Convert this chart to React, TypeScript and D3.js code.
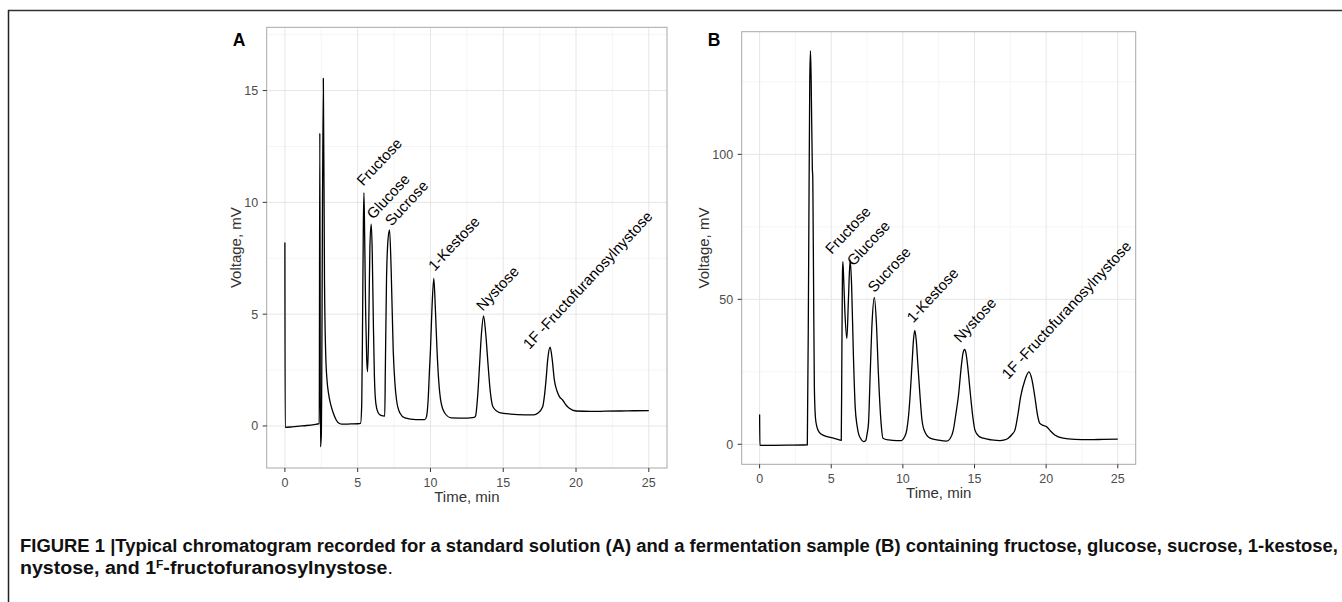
import React, { useEffect, useRef } from 'react';
import * as d3 from 'd3';

// Chromatogram traces: [time (min), voltage (mV)]
const traceA: [number, number][] = [
  [0, 8.2], [0.02, -0.06], [0.5, -0.04], [1.0, -0.01], [1.5, 0.02], [2.0, 0.06], [2.36, 0.1],
  [2.4, 13.1], [2.44, -0.93], [2.5, -0.45], [2.64, 15.55], [2.72, 6.5], [2.8, 3.3], [2.9, 2.0],
  [3.0, 1.45], [3.15, 0.95], [3.33, 0.57], [3.5, 0.3], [3.67, 0.14], [3.9, 0.08], [4.5, 0.09],
  [5.0, 0.1], [5.2, 0.12],
  [5.28, 1.0], [5.34, 5.0], [5.39, 9.0], [5.43, 10.43], [5.48, 8.5], [5.55, 5.0], [5.62, 3.0],
  [5.68, 2.43], [5.76, 4.5], [5.84, 8.0], [5.93, 9.03], [6.0, 7.8], [6.08, 4.5], [6.15, 2.2],
  [6.25, 1.0], [6.4, 0.6], [6.6, 0.47], [6.86, 0.44],
  [6.9, 2.5], [6.98, 6.5], [7.08, 8.3], [7.19, 8.77], [7.3, 7.0], [7.44, 3.4], [7.56, 1.9],
  [7.67, 1.16], [7.9, 0.58], [8.24, 0.36], [9.0, 0.28], [9.6, 0.28],
  [9.73, 0.42], [9.84, 1.16], [9.94, 2.6], [10.0, 3.4], [10.1, 5.2], [10.23, 6.6], [10.34, 5.2],
  [10.45, 3.4], [10.57, 2.0], [10.7, 1.16], [10.98, 0.58], [11.44, 0.36], [12.5, 0.35], [13.0, 0.38],
  [13.1, 0.45], [13.25, 1.4], [13.38, 2.8], [13.5, 4.1], [13.65, 4.92], [13.8, 4.1], [13.95, 2.8],
  [14.1, 1.6], [14.29, 0.86], [14.75, 0.6], [15.5, 0.53], [16.5, 0.5], [17.1, 0.5],
  [17.37, 0.57], [17.71, 0.86], [17.84, 1.4], [17.94, 2.06], [18.06, 3.0], [18.22, 3.52],
  [18.36, 3.0], [18.51, 2.06], [18.7, 1.55], [18.86, 1.31], [19.08, 1.16], [19.3, 0.95],
  [19.54, 0.79], [20.0, 0.67], [21.0, 0.65], [22.0, 0.66], [23.0, 0.67], [24.0, 0.68], [25.0, 0.69],
];

const traceB: [number, number][] = [
  [0, 10.3], [0.02, -0.4], [1.0, -0.35], [2.0, -0.3], [3.0, -0.25], [3.33, -0.2],
  [3.42, 60], [3.5, 125], [3.55, 135.7], [3.6, 125], [3.68, 95], [3.71, 92.3], [3.72, 87.1],
  [3.76, 60], [3.82, 20], [3.9, 9], [4.0, 6], [4.14, 4.3], [4.5, 3.0], [5.0, 2.3], [5.4, 1.8], [5.7, 1.4],
  [5.74, 30], [5.78, 58], [5.81, 63], [5.86, 58], [5.95, 46], [6.09, 36.5], [6.2, 50], [6.32, 63.6],
  [6.42, 55], [6.55, 30], [6.67, 13], [6.8, 6.5], [6.9, 3.8], [7.05, 2.0], [7.25, 0.9], [7.4, 1.2],
  [7.5, 3.5], [7.6, 7.2], [7.72, 24.5], [7.85, 42], [8.01, 50.7], [8.15, 42], [8.29, 24.5],
  [8.48, 7.2], [8.61, 2.1], [9.0, 1.5], [9.58, 1.24], [9.9, 1.3],
  [10.1, 2.4], [10.27, 4.9], [10.4, 10], [10.5, 16.4], [10.64, 27.9], [10.74, 36], [10.83, 39.3],
  [10.93, 36], [11.04, 27.9], [11.2, 16.4], [11.32, 9], [11.48, 4.9], [11.9, 2.1], [12.5, 1.4], [13.06, 1.1],
  [13.3, 2.0], [13.52, 4.9], [13.7, 10.5], [13.87, 16.4], [14.1, 27.9], [14.2, 31.5], [14.31, 32.7],
  [14.4, 31.5], [14.5, 27.9], [14.73, 16.4], [14.88, 9.5], [15.03, 4.9], [15.3, 2.8], [15.61, 2.1],
  [16.2, 1.5], [16.77, 1.24], [17.1, 1.5],
  [17.35, 2.1], [17.6, 3.3], [17.82, 4.9], [18.02, 10], [18.22, 16.4], [18.52, 22.2], [18.8, 25],
  [19.0, 22.5], [19.21, 16.4], [19.4, 10], [19.56, 7.2], [19.8, 6.5], [20.02, 6.1], [20.3, 4.6],
  [20.6, 3.2], [21.18, 2.1], [22, 1.7], [23, 1.6], [24, 1.7], [25, 1.8],
];

const peakNames = ['Fructose', 'Glucose', 'Sucrose', '1-Kestose', 'Nystose', '1F -Fructofuranosylnystose'];
const labelTimeA = [5.38, 6.07, 7.33, 10.29, 13.6, 16.8];
const labelVoltA = [10.7, 9.21, 8.91, 6.9, 5.11, 3.4];
const labelTimeB = [5.04, 6.55, 8.0, 10.73, 14.0, 17.35];
const labelVoltB = [65.3, 61.2, 52.1, 41.7, 34.8, 22.2];

const timeTicks = [0, 5, 10, 15, 20, 25];
const timeMinor = [2.5, 7.5, 12.5, 17.5, 22.5];
const voltTicksA = [0, 5, 10, 15];
const voltMinorA = [2.5, 7.5, 12.5, 17.5];
const voltTicksB = [0, 50, 100];
const voltMinorB = [25, 75, 125];

const FONT = '"Liberation Sans", Arial, Helvetica, sans-serif';

type PanelSpec = {
  tag: string;
  trace: [number, number][];
  labelT: number[];
  labelV: number[];
  yDomain: [number, number];
  yTicks: number[];
  yMinor: number[];
  titleGap: number;
  box: { left: number; top: number; right: number; bottom: number };
};

export default function App() {
  const svgRef = useRef<SVGSVGElement>(null);

  useEffect(() => {
    const svg = d3.select(svgRef.current);
    svg.selectAll('*').remove();

    // figure frame (top rule + left rule)
    svg.append('line').attr('x1', 8).attr('x2', 1342).attr('y1', 10.5).attr('y2', 10.5)
      .attr('stroke', '#333').attr('stroke-width', 1.5);
    svg.append('line').attr('x1', 8.5).attr('x2', 8.5).attr('y1', 10).attr('y2', 602)
      .attr('stroke', '#222').attr('stroke-width', 1.5);

    const panels: PanelSpec[] = [
      {
        tag: 'A', trace: traceA, labelT: labelTimeA, labelV: labelVoltA,
        yDomain: [-1.88, 17.83], yTicks: voltTicksA, yMinor: voltMinorA, titleGap: 26,
        box: { left: 266.7, top: 27.3, right: 667, bottom: 468 },
      },
      {
        tag: 'B', trace: traceB, labelT: labelTimeB, labelV: labelVoltB,
        yDomain: [-6.9, 142.3], yTicks: voltTicksB, yMinor: voltMinorB, titleGap: 33,
        box: { left: 741.7, top: 31.7, right: 1135.7, bottom: 464.3 },
      },
    ];

    panels.forEach(p => {
      const { left, top, right, bottom } = p.box;
      const x = d3.scaleLinear().domain([-1.25, 26.25]).range([left, right]);
      const y = d3.scaleLinear().domain(p.yDomain).range([bottom, top]);
      const g = svg.append('g');

      // minor + major grid
      g.selectAll('.vmin').data(timeMinor).join('line')
        .attr('x1', d => x(d)).attr('x2', d => x(d)).attr('y1', top).attr('y2', bottom)
        .attr('stroke', '#f3f3f3').attr('stroke-width', 0.8);
      g.selectAll('.hmin').data(p.yMinor).join('line')
        .attr('y1', d => y(d)).attr('y2', d => y(d)).attr('x1', left).attr('x2', right)
        .attr('stroke', '#f3f3f3').attr('stroke-width', 0.8);
      g.selectAll('.vmaj').data(timeTicks).join('line')
        .attr('x1', d => x(d)).attr('x2', d => x(d)).attr('y1', top).attr('y2', bottom)
        .attr('stroke', '#e6e6e6').attr('stroke-width', 1);
      g.selectAll('.hmaj').data(p.yTicks).join('line')
        .attr('y1', d => y(d)).attr('y2', d => y(d)).attr('x1', left).attr('x2', right)
        .attr('stroke', '#e6e6e6').attr('stroke-width', 1);

      // trace
      const line = d3.line<[number, number]>().x(d => x(d[0])).y(d => y(d[1])).curve(d3.curveMonotoneX);
      g.append('path').datum(p.trace).attr('d', line)
        .attr('fill', 'none').attr('stroke', '#000').attr('stroke-width', 1.3)
        .attr('stroke-linejoin', 'round');

      // panel border
      g.append('rect').attr('x', left).attr('y', top).attr('width', right - left).attr('height', bottom - top)
        .attr('fill', 'none').attr('stroke', '#a8a8a8').attr('stroke-width', 1);

      // ticks + tick labels
      g.selectAll('.xt').data(timeTicks).join('line')
        .attr('x1', d => x(d)).attr('x2', d => x(d)).attr('y1', bottom).attr('y2', bottom + 4)
        .attr('stroke', '#333').attr('stroke-width', 1);
      g.selectAll('.xl').data(timeTicks).join('text')
        .attr('x', d => x(d)).attr('y', bottom + 19).attr('text-anchor', 'middle')
        .style('font-family', FONT).style('font-size', '12.5px').style('fill', '#4d4d4d')
        .text(d => d);
      g.selectAll('.yt').data(p.yTicks).join('line')
        .attr('y1', d => y(d)).attr('y2', d => y(d)).attr('x1', left - 4).attr('x2', left)
        .attr('stroke', '#333').attr('stroke-width', 1);
      g.selectAll('.yl').data(p.yTicks).join('text')
        .attr('x', left - 8.5).attr('y', d => y(d) + 4.5).attr('text-anchor', 'end')
        .style('font-family', FONT).style('font-size', '12.5px').style('fill', '#4d4d4d')
        .text(d => d);

      // axis titles
      g.append('text').attr('x', (left + right) / 2).attr('y', bottom + 34).attr('text-anchor', 'middle')
        .style('font-family', FONT).style('font-size', '15px').style('fill', '#333')
        .text('Time, min');
      g.append('text')
        .attr('transform', `translate(${left - p.titleGap},${(top + bottom) / 2}) rotate(-90)`)
        .attr('text-anchor', 'middle')
        .style('font-family', FONT).style('font-size', '15px').style('fill', '#333')
        .text('Voltage, mV');

      // peak labels
      peakNames.forEach((name, i) => {
        g.append('text')
          .attr('transform', `translate(${x(p.labelT[i])},${y(p.labelV[i])}) rotate(-47)`)
          .style('font-family', FONT).style('font-size', '15px').style('fill', '#000')
          .text(name);
      });

      // panel tag
      svg.append('text').attr('x', left - 34).attr('y', 45.7)
        .style('font-family', FONT).style('font-size', '17.5px').style('font-weight', 'bold')
        .text(p.tag);
    });

    // caption
    const cap = svg.append('g').style('font-family', '"Liberation Sans Narrow", "Liberation Sans", Arial, sans-serif')
      .style('font-size', '18px').style('font-weight', 'bold').style('fill', '#111');
    cap.append('text').attr('x', 20).attr('y', 552)
      .attr('textLength', 1318).attr('lengthAdjust', 'spacingAndGlyphs')
      .text('FIGURE 1 |Typical chromatogram recorded for a standard solution (A) and a fermentation sample (B) containing fructose, glucose, sucrose, 1-kestose,');
    const l2 = cap.append('text').attr('x', 20).attr('y', 574)
      .attr('textLength', 373).attr('lengthAdjust', 'spacingAndGlyphs');
    l2.append('tspan').text('nystose, and 1');
    l2.append('tspan').attr('dy', -6).style('font-size', '11px').text('F');
    l2.append('tspan').attr('dy', 6).text('-fructofuranosylnystose');
    l2.append('tspan').style('font-weight', 'normal').text('.');
  }, []);

  return (
    <div style={{ position: 'absolute', left: 0, top: 0, background: 'white' }}>
      <svg ref={svgRef} width={1342} height={602} style={{ display: 'block' }}></svg>
    </div>
  );
}
